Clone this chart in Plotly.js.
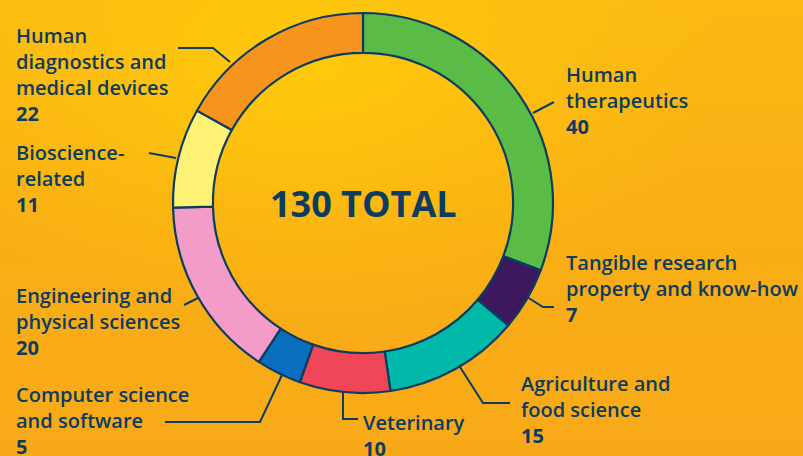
<!DOCTYPE html>
<html>
<head>
<meta charset="utf-8">
<script src="https://cdn.plot.ly/plotly-3.0.1.min.js"></script>
<style>
html,body{margin:0;padding:0;}
body{width:803px;height:456px;overflow:hidden;
background:
 radial-gradient(ellipse 420px 260px at 300px 60px, rgba(255,205,10,0.85) 0%, rgba(255,200,10,0.4) 55%, rgba(255,200,10,0) 100%),
 linear-gradient(180deg,#FBB913 0%,#F9AE15 50%,#F8A918 100%);}
#chart{width:803px;height:456px;}
</style>
</head>
<body>
<div id="chart"></div>
<script>
var categories = ["Human therapeutics","Tangible research property and know-how","Agriculture and food science","Veterinary","Computer science and software","Engineering and physical sciences","Bioscience-related","Human diagnostics and medical devices"];
var labelText = ["Human<br>therapeutics","Tangible research<br>property and know-how","Agriculture and<br>food science","Veterinary","Computer science<br>and software","Engineering and<br>physical sciences","Bioscience-<br>related","Human<br>diagnostics and<br>medical devices"];
var values = [40,7,15,10,5,20,11,22];
var colors = ["#5BBB47","#3E185E","#00B9A8","#EF4757","#0A6FBE","#F49CC8","#FFF275","#F7941E"];
var totalLabel = "130 TOTAL";

var W=803,H=456;
function px(x){return x/W;}
function py(y){return 1-y/H;}
var navy="#0C3C60";

// label anchor positions (pixels, left / top)
var labelPos = [[564,59],[564,247],[519,368],[361,407],[14,379],[14,280],[14,137],[14,20]];
var annotations = categories.map(function(c,i){
  return {xref:'paper',yref:'paper',x:px(labelPos[i][0]),y:py(labelPos[i][1]),xanchor:'left',yanchor:'top',
    align:'left',showarrow:false,text:labelText[i]+"<br><b>"+values[i]+"</b>",
    font:{family:'Open Sans',size:20,color:navy,weight:600}};
});
annotations.push({xref:'paper',yref:'paper',x:px(363),y:py(203),xanchor:'center',yanchor:'middle',showarrow:false,
  text:"<b>"+totalLabel+"</b>",font:{family:'Open Sans',size:36,color:navy}});

var leaders = [
 [[533,113],[554,102]],
 [[527,297],[543,307],[554,307]],
 [[460,367],[483,403],[510,403]],
 [[343,392],[343,419],[358,419]],
 [[282,375],[260,422],[165,422]],
 [[198,298],[184,305]],
 [[176,158],[149,153]],
 [[230,62],[213,48],[178,48]]
];
var shapes = leaders.map(function(pts){
  var d = pts.map(function(p,j){return (j?'L':'M')+px(p[0])+','+py(p[1]);}).join(' ');
  return {type:'path',xref:'paper',yref:'paper',path:d,line:{color:navy,width:2}};
});

var cx=363,cy=203,R=190;
var trace = {type:'pie',labels:categories,values:values,sort:false,direction:'clockwise',rotation:0,
  hole:0.79,textinfo:'none',hoverinfo:'label+value',
  marker:{colors:colors,line:{color:navy,width:2.2}},
  domain:{x:[px(cx-R),px(cx+R)],y:[py(cy+R),py(cy-R)]},showlegend:false};

Plotly.newPlot('chart',[trace],{width:W,height:H,margin:{l:0,r:0,t:0,b:0},
  paper_bgcolor:'rgba(0,0,0,0)',plot_bgcolor:'rgba(0,0,0,0)',showlegend:false,
  annotations:annotations,shapes:shapes},{displayModeBar:false,staticPlot:true});
</script>
</body>
</html>
